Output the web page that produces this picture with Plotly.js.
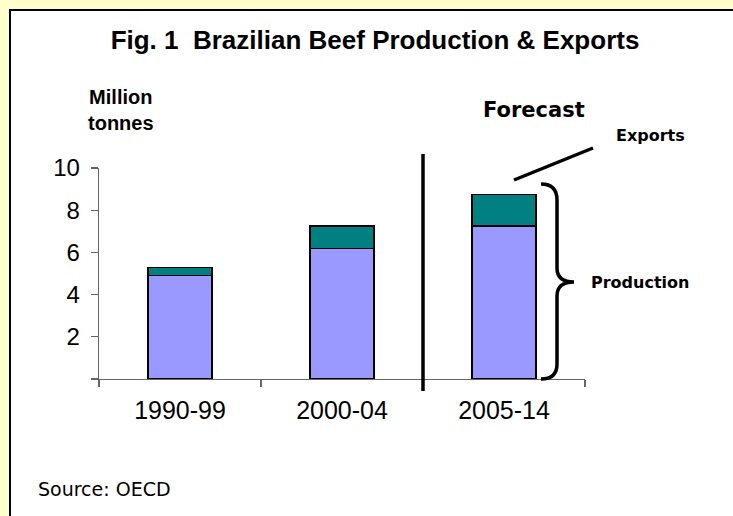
<!DOCTYPE html>
<html>
<head>
<meta charset="utf-8">
<script src="https://cdn.plot.ly/plotly-3.0.1.min.js"></script>
<style>html,body{margin:0;padding:0;background:#FFFFFF;overflow:hidden;}#chart{width:733px;height:516px;}</style>
</head>
<body>
<div id="chart"></div>
<script>
// ---- data ----
var categories = ['1990-99', '2000-04', '2005-14'];
var production = [4.9, 6.2, 7.25];
var exportsVals = [0.4, 1.05, 1.5];
var yTickVals = [0, 2, 4, 6, 8, 10];
var yTickText = ['', '2', '4', '6', '8', '10'];

// ---- layout geometry ----
var W = 733, H = 516, ML = 99, MR = 148, MT = 168, MB = 137;
var PW = W - ML - MR, PH = H - MT - MB;
function px(x) { return (x - ML) / PW; }
function py(y) { return (H - MB - y) / PH; }
function cat(c) { return (c + 0.5) / categories.length; }

function brace() {
  var pts = [
    ['M', 541, 184], ['Q', 557, 184, 557, 200], ['L', 557, 268],
    ['Q', 557, 282, 574, 282], ['Q', 557, 282, 557, 296], ['L', 557, 364],
    ['Q', 557, 379, 541, 379]
  ];
  return pts.map(function (p) {
    var s = p[0];
    for (var i = 1; i < p.length; i += 2) {
      s += ' ' + px(p[i]).toFixed(5) + ',' + py(p[i + 1]).toFixed(5);
    }
    return s;
  }).join(' ');
}

var traces = [
  {
    type: 'bar', x: categories, y: production, name: 'Production',
    width: 0.395,
    marker: { color: '#9999FF', line: { color: '#000000', width: 1.3 } }
  },
  {
    type: 'bar', x: categories, y: exportsVals, name: 'Exports',
    width: 0.395,
    marker: { color: '#008080', line: { color: '#000000', width: 1.3 } }
  }
];

var layout = {
  width: W, height: H,
  margin: { l: ML, r: MR, t: MT, b: MB, pad: 0 },
  paper_bgcolor: '#FFFFFF',
  plot_bgcolor: 'rgba(0,0,0,0)',
  barmode: 'stack',
  showlegend: false,
  hovermode: false,
  title: {
    text: 'Fig. 1\u00a0 Brazilian Beef Production & Exports',
    font: { family: 'Arial, Liberation Sans, sans-serif', size: 26, color: '#000', weight: 'bold' },
    x: 375 / W, xanchor: 'center', xref: 'container',
    y: 1 - 40 / H, yanchor: 'middle', yref: 'container'
  },
  xaxis: {
    type: 'category',
    range: [-0.5, 2.5],
    showline: true, linecolor: '#666666', linewidth: 1.3,
    ticks: 'outside', tickson: 'boundaries', ticklen: 7, tickcolor: '#666666', tickwidth: 1.3,
    showgrid: false, zeroline: false,
    tickfont: { family: 'Arial, Liberation Sans, sans-serif', size: 25, color: '#000' },
    ticklabelstandoff: 9,
    fixedrange: true
  },
  yaxis: {
    range: [0, 10],
    tickmode: 'array', tickvals: yTickVals, ticktext: yTickText,
    showline: true, linecolor: '#666666', linewidth: 1.3,
    ticks: 'outside', ticklen: 7, tickcolor: '#666666', tickwidth: 1.3,
    showgrid: false, zeroline: false,
    tickfont: { family: 'Arial, Liberation Sans, sans-serif', size: 24, color: '#000' },
    ticklabelstandoff: 6,
    fixedrange: true
  },
  shapes: [
    { type: 'rect', xref: 'paper', yref: 'paper', layer: 'below',
      x0: px(-5), x1: px(10), y0: py(530), y1: py(-5),
      fillcolor: '#FFFFCC', line: { width: 0 } },
    { type: 'rect', xref: 'paper', yref: 'paper', layer: 'below',
      x0: px(-5), x1: px(740), y0: py(10), y1: py(-5),
      fillcolor: '#FFFFCC', line: { width: 0 } },
    { type: 'line', xref: 'paper', yref: 'paper',
      x0: px(10), x1: px(10), y0: py(10), y1: py(530),
      line: { color: '#000000', width: 2 } },
    { type: 'line', xref: 'paper', yref: 'paper',
      x0: px(9), x1: px(745), y0: py(10), y1: py(10),
      line: { color: '#000000', width: 2 } },
    { type: 'line', xref: 'paper', yref: 'paper',
      x0: cat(1.5), x1: cat(1.5), y0: py(154), y1: py(391),
      line: { color: '#000000', width: 3.5 } },
    { type: 'line', xref: 'paper', yref: 'paper',
      x0: px(514), x1: px(593), y0: py(180), y1: py(148),
      line: { color: '#000000', width: 3.5 } },
    { type: 'path', xref: 'paper', yref: 'paper', path: brace(),
      line: { color: '#000000', width: 3.5 } }
  ],
  annotations: [
    { text: '<b>Million<br>tonnes</b>', xref: 'paper', yref: 'paper',
      x: px(121), y: py(110), xanchor: 'center', yanchor: 'middle', showarrow: false,
      font: { family: 'Arial, Liberation Sans, sans-serif', size: 20, color: '#000' } },
    { text: '<b>Forecast</b>', xref: 'paper', yref: 'paper',
      x: px(534), y: py(110), xanchor: 'center', yanchor: 'middle', showarrow: false,
      font: { family: 'DejaVu Sans, Verdana, sans-serif', size: 21, color: '#000' } },
    { text: '<b>Exports</b>', xref: 'paper', yref: 'paper',
      x: px(650), y: py(135), xanchor: 'center', yanchor: 'middle', showarrow: false,
      font: { family: 'DejaVu Sans, Verdana, sans-serif', size: 16, color: '#000' } },
    { text: '<b>Production</b>', xref: 'paper', yref: 'paper',
      x: px(640), y: py(282), xanchor: 'center', yanchor: 'middle', showarrow: false,
      font: { family: 'DejaVu Sans, Verdana, sans-serif', size: 16, color: '#000' } },
    { text: 'Source: OECD', xref: 'paper', yref: 'paper',
      x: px(36), y: py(489), xanchor: 'left', yanchor: 'middle', showarrow: false,
      font: { family: 'DejaVu Sans, Verdana, sans-serif', size: 19, color: '#000' } }
  ]
};

Plotly.newPlot('chart', traces, layout, { displayModeBar: false, staticPlot: true });
</script>
</body>
</html>
